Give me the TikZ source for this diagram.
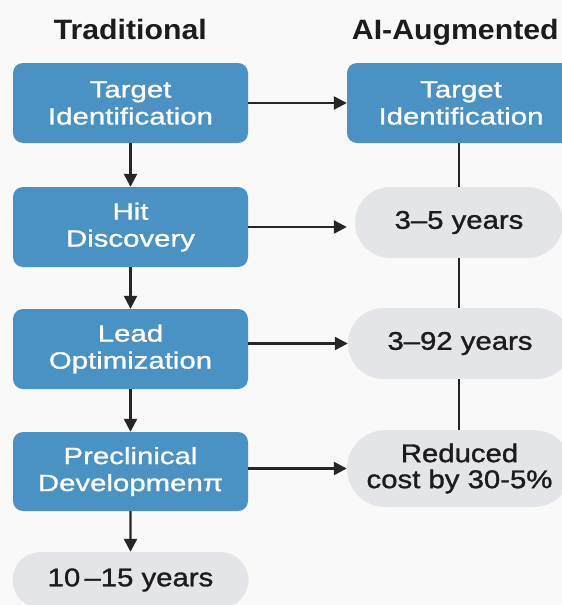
\documentclass[tikz,border=0pt]{standalone}
\usepackage{fontspec}
\setmainfont{Liberation Sans}
\newfontfamily\titlefont{Liberation Sans}[FakeStretch=1.08]
\newfontfamily\boxfont{Liberation Sans}[FakeStretch=1.25,FakeBold=1.2]
\newfontfamily\pillfont{Liberation Sans}[FakeStretch=1.15,FakeBold=1.3]
\usetikzlibrary{arrows.meta,shapes.misc}
\definecolor{bg}{HTML}{F9F9F9}
\definecolor{boxblue}{HTML}{4A91C4}
\definecolor{pillgrey}{HTML}{E4E5E8}
\definecolor{ink}{HTML}{1C1C1C}
\definecolor{linecol}{HTML}{262626}
\tikzset{
  title/.style={anchor=base,text=ink,inner sep=0pt,font=\titlefont\bfseries\fontsize{28}{30}\selectfont},
  bluebox/.style={rectangle,rounded corners=10pt,fill=boxblue,text=white,align=center,inner sep=0pt,
    minimum height=80pt,font=\boxfont\fontsize{23.5}{27}\selectfont},
  pill/.style={rounded rectangle,fill=pillgrey,text=ink,align=center,inner sep=0pt,
    font=\pillfont\fontsize{25.5}{26}\selectfont},
  arr/.style={draw=linecol,line width=2.4pt,-{Triangle[length=13pt,width=13pt]}},
  link/.style={draw=linecol,line width=2.4pt},
}
\begin{document}
\begin{tikzpicture}[x=1pt,y=-1pt]
\useasboundingbox[fill=bg] (0,0) rectangle (562,605);

\node[title] (t1) at (130.3,39) {Traditional};
\node[title] (t2) at (455.3,39) {AI-Augmented};

\node[bluebox,minimum width=235pt] (b1) at (130.5,103) {Target\\Identification};
\node[bluebox,minimum width=235pt] (b2) at (130.5,227) {Hit\\Discovery};
\node[bluebox,minimum width=235pt] (b3) at (130.5,349) {Lead\\Optimization};
\node[bluebox,minimum width=235pt,minimum height=79pt] (b4) at (130.5,471.5) {Preclinical\\Developmenπ};
\node[pill,minimum width=236pt,minimum height=56pt] (p0) at (130.5,580) {10\,–15 years};

\node[bluebox,minimum width=228pt] (r1) at (461,103) {Target\\Identification};
\node[pill,minimum width=208pt,minimum height=71pt] (p1) at (459,222.5) {3–5 years};
\node[pill,minimum width=224pt,minimum height=71pt] (p2) at (460,343.5) {3–92 years};
\node[pill,minimum width=225pt,minimum height=77pt] (p3) at (459.5,468.5) {Reduced\\cost by 30-5\%};

\draw[arr] (b1) -- (b2);
\draw[arr] (b2) -- (b3);
\draw[arr] (b3) -- (b4);
\draw[arr] (b4) -- (p0);

\draw[arr] (b1.east) -- (r1.west);
\draw[arr,shorten >=8pt] (b2.east) -- (b2.east -| p1.west);
\draw[arr] (b3.east |- p2.west) -- (p2.west);
\draw[arr] (b4.east |- p3.west) -- (p3.west);

\draw[link] (r1.south -| p1.north) -- (p1.north);
\draw[link] (p1.south) -- (p1.south |- p2.north);
\draw[link] (p1.south |- p2.south) -- (p1.south |- p3.north);
\end{tikzpicture}
\end{document}
